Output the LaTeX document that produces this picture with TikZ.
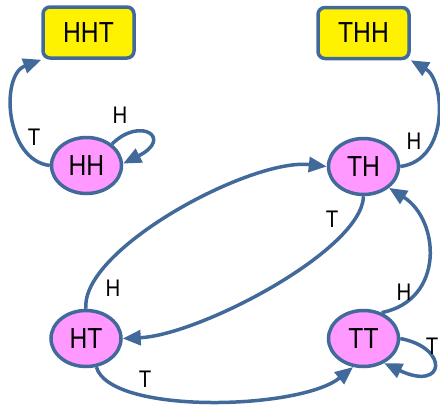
\documentclass[tikz,border=0pt]{standalone}
\usepackage{fontspec}
\setmainfont{Liberation Sans}
\usetikzlibrary{arrows.meta,shapes.geometric}
\definecolor{lineblue}{RGB}{65,106,155}
\definecolor{statepink}{RGB}{255,153,255}
\tikzset {>={Triangle[length=18pt,width=15pt]}}
\newcommand{\narrow}[1]{\scalebox{0.85}[1]{#1}}

\begin{document}
\begin{tikzpicture}[x=1pt,y=-1pt,
  goal/.style={draw=lineblue,line width=3.5pt,fill=yellow,rounded corners=7pt,
    minimum width=91pt,minimum height=51pt,font=\fontsize{29}{31}\selectfont},
  state/.style={ellipse,draw=lineblue,line width=3.5pt,fill=statepink,inner sep=0pt,
    minimum width=70pt,minimum height=56pt,font=\fontsize{29}{31}\selectfont},
  edge/.style={->,draw=lineblue,line width=3.5pt},
  lbl/.style={font=\fontsize{24}{26}\selectfont}]
\useasboundingbox (0,0) rectangle (440,407);

\node[goal] (hht) at (88.5,32.5) {\narrow{HHT}};
\node[goal] (thh) at (363.5,33) {\narrow{THH}};
\node[state] (hh) at (86.5,165.5) {\narrow{HH}};
\node[state] (th) at (363.5,166.5) {\narrow{TH}};
\node[state] (ht) at (86,338.5) {\narrow{HT}};
\node[state] (tt) at (363.5,338.5) {\narrow{TT}};

\draw[edge] (hh.west) .. controls (5,160) and (0,75) .. (hht.south west);
\draw[edge] (hh.40) .. controls (140,116) and (174,138) .. (hh.3);
\draw[edge] (th.east) .. controls (450,160) and (445,80) .. (thh.south east);
\draw[edge] (ht.north) .. controls (80,250) and (250,158) .. (th.west);
\draw[edge] (th.south) .. controls (362,250) and (200,335) .. (ht.east);
\draw[edge] (tt.55) .. controls (445,300) and (440,220) .. (th.-40);
\draw[edge] (ht.-70) .. controls (110,415) and (300,410) .. (tt.-110);
\draw[edge] (tt.east) .. controls (450,348) and (445,392) .. (tt.-50);

\node[lbl] at (34,137) {\narrow{T}};
\node[lbl] at (120,115) {\narrow{H}};
\node[lbl] at (414,141) {\narrow{H}};
\node[lbl] at (113,288) {\narrow{H}};
\node[lbl] at (332,219) {\narrow{T}};
\node[lbl] at (404,292) {\narrow{H}};
\node[lbl] at (145,379) {\narrow{T}};
\node[lbl] at (432,346) {\narrow{T}};
\end{tikzpicture}
\end{document}
